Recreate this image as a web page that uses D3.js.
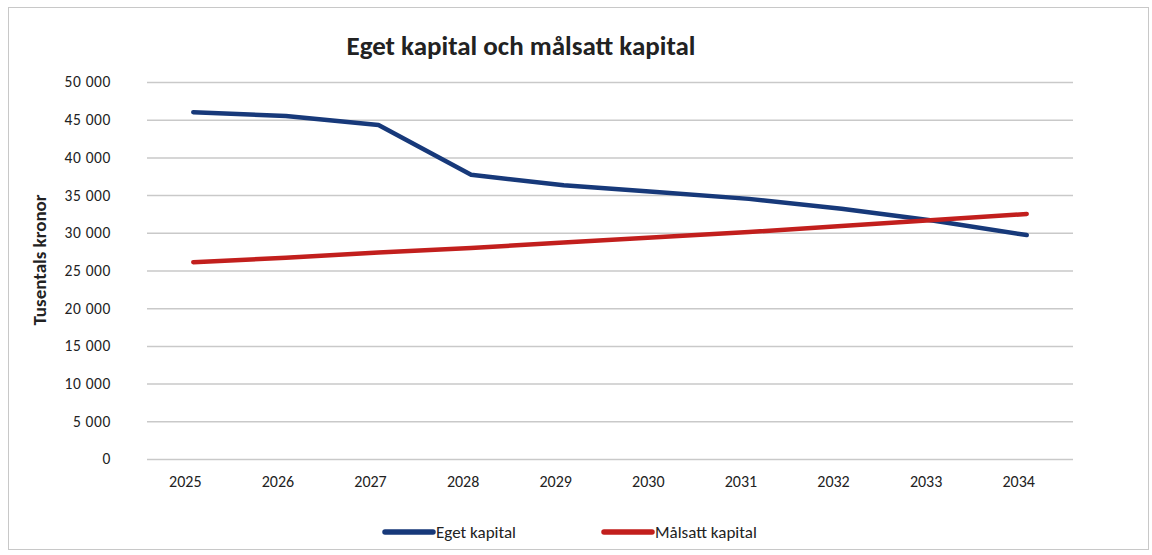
<!DOCTYPE html>
<html lang="sv">
<head>
<meta charset="UTF-8">
<title>Eget kapital och målsatt kapital</title>
<script src="https://d3js.org/d3.v7.min.js"></script>
<style>
  body { margin: 0; background: #fff; }
  svg text { font-family: Carlito, Lato, "Open Sans", sans-serif; fill: #222; }
</style>
</head>
<body>
<div id="chart"></div>
<script>
// data (tusentals kronor)
const years = ["2025","2026","2027","2028","2029","2030","2031","2032","2033","2034"];
const egetKapital = [46000, 45500, 44300, 37700, 36300, 35400, 34500, 33200, 31600, 29700];
const malsattKapital = [26100, 26700, 27400, 28000, 28700, 29400, 30100, 30900, 31700, 32500];
const yTicks = [0, 5000, 10000, 15000, 20000, 25000, 30000, 35000, 40000, 45000, 50000];
const seriesNames = ["Eget kapital", "Målsatt kapital"];
const seriesColors = ["#17397a", "#c21f1d"];

const width = 1152, height = 555;
const plot = { left: 147, right: 1073, top: 82, bottom: 459 };

const svg = d3.select("#chart").append("svg")
    .attr("width", width)
    .attr("height", height);

// outer frame
svg.append("rect")
    .attr("x", 8.5).attr("y", 7.5)
    .attr("width", 1140).attr("height", 542)
    .attr("fill", "none")
    .attr("stroke", "#c8c8c8")
    .attr("stroke-width", 1);

const x = d3.scaleBand().domain(years).range([plot.left, plot.right]);
const y = d3.scaleLinear().domain([0, 50000]).range([plot.bottom, plot.top]);

const fmt = v => d3.format(",")(v).replace(/,/g, " ");

// gridlines + y labels
const yAxis = d3.axisLeft(y)
    .tickValues(yTicks)
    .tickSize(-(plot.right - plot.left))
    .tickPadding(36)
    .tickFormat(fmt);

const gy = svg.append("g")
    .attr("transform", `translate(${plot.left},0)`)
    .call(yAxis);
gy.select(".domain").remove();
gy.selectAll(".tick line").attr("stroke", "#c9c9c9").attr("stroke-width", 1.5);
gy.selectAll(".tick text")
    .style("font-size", "15.5px")
    .style("letter-spacing", "0.6px")
    .attr("fill", "#222");

// x labels (sit a little left of the band centre in the original)
const xAxis = d3.axisBottom(x).tickSize(0).tickPadding(17);
const gx = svg.append("g")
    .attr("transform", `translate(0,${plot.bottom})`)
    .call(xAxis);
gx.select(".domain").remove();
gx.selectAll(".tick text")
    .attr("dx", -8)
    .style("font-size", "16px")
    .attr("fill", "#222");

// lines
const line = d3.line()
    .x((d, i) => x(years[i]) + x.bandwidth() / 2)
    .y(d => y(d));

[egetKapital, malsattKapital].forEach((vals, i) => {
  svg.append("path")
      .datum(vals)
      .attr("d", line)
      .attr("fill", "none")
      .attr("stroke", seriesColors[i])
      .attr("stroke-width", 4.5)
      .attr("stroke-linejoin", "round")
      .attr("stroke-linecap", "round");
});

// title
svg.append("text")
    .attr("x", 521).attr("y", 55)
    .attr("text-anchor", "middle")
    .style("font-size", "27px")
    .style("font-weight", "bold")
    .text("Eget kapital och målsatt kapital");

// y axis title
svg.append("text")
    .attr("transform", "translate(46,260) rotate(-90)")
    .attr("text-anchor", "middle")
    .style("font-size", "19px")
    .style("font-weight", "bold")
    .text("Tusentals kronor");

// legend
const legendX = [385, 604];
seriesNames.forEach((name, i) => {
  const g = svg.append("g").attr("transform", `translate(${legendX[i]},532)`);
  g.append("line")
      .attr("x1", 0).attr("x2", 48)
      .attr("stroke", seriesColors[i])
      .attr("stroke-width", 5.5)
      .attr("stroke-linecap", "round");
  g.append("text")
      .attr("x", 51).attr("y", 6)
      .style("font-size", "17px")
      .text(name);
});
</script>
</body>
</html>
